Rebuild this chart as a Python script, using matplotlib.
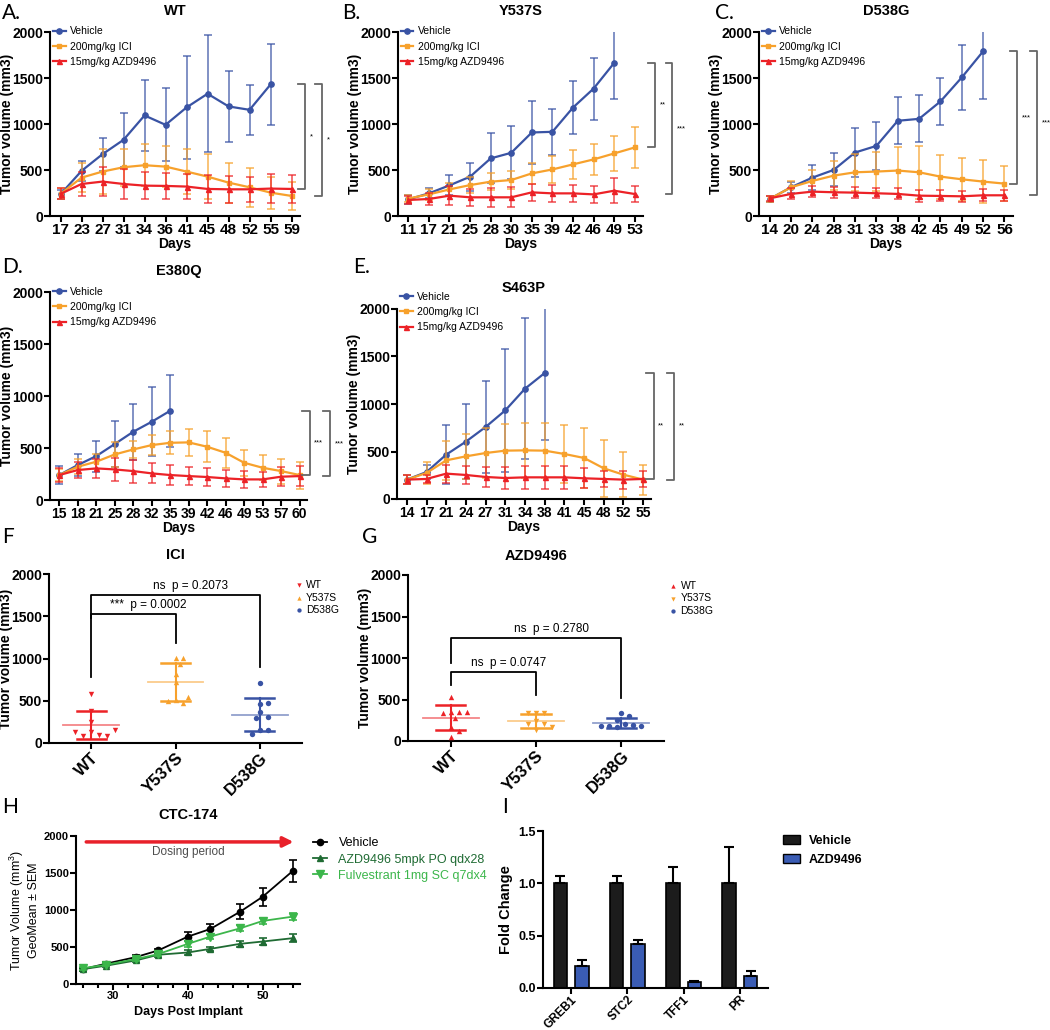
import numpy as np
import matplotlib
matplotlib.use('Agg')
import matplotlib.pyplot as plt
from matplotlib.transforms import blended_transform_factory
from matplotlib.ticker import MultipleLocator
from matplotlib.patches import Patch

plt.rcParams['font.family'] = ['Liberation Sans', 'DejaVu Sans']
plt.rcParams['mathtext.default'] = 'regular'

# ---- data: tumour growth, panels A-E (mean, SD) ----
days_A = [17, 23, 27, 31, 34, 36, 41, 45, 48, 52, 55, 59]
veh_A = [236, 490, 672, 828, 1093, 991, 1180, 1329, 1191, 1154, 1430]
veh_A_err = [50, 109, 181, 290, 388, 396, 562, 635, 388, 269, 436]
ici_A = [240, 417, 483, 530, 552, 537, 483, 428, 363, 312, 254, 218]
ici_A_err = [60, 160, 240, 200, 228, 225, 247, 247, 218, 214, 174, 156]
azd_A = [240, 348, 374, 348, 330, 327, 320, 294, 290, 290, 298, 294]
azd_A_err = [60, 135, 156, 164, 145, 138, 137, 153, 149, 138, 159, 153]

days_B = [11, 17, 21, 25, 28, 30, 35, 39, 42, 46, 49, 53]
veh_B = [181, 246, 333, 427, 626, 687, 908, 915, 1179, 1385, 1664]
veh_B_err = [50, 55, 108, 152, 271, 290, 344, 253, 290, 337, 387]
ici_B = [190, 235, 289, 336, 373, 391, 463, 506, 561, 615, 680, 745]
ici_B_err = [40, 60, 67, 85, 90, 95, 115, 150, 160, 170, 190, 220]
azd_B = [174, 185, 221, 203, 203, 203, 257, 246, 246, 235, 275, 239]
azd_B_err = [40, 60, 100, 90, 105, 110, 95, 95, 90, 90, 135, 90]

days_C = [14, 20, 24, 28, 31, 33, 38, 42, 45, 49, 52, 56]
veh_C = [185, 312, 417, 501, 690, 762, 1035, 1056, 1245, 1506, 1790]
veh_C_err = [30, 60, 135, 180, 265, 265, 255, 255, 255, 350, 520]
ici_C = [185, 312, 381, 439, 475, 483, 494, 475, 428, 399, 374, 352]
ici_C_err = [30, 70, 120, 155, 200, 210, 255, 285, 240, 235, 230, 190]
azd_C = [192, 240, 265, 258, 254, 247, 240, 221, 218, 214, 225, 225]
azd_C_err = [30, 60, 60, 60, 60, 55, 60, 65, 60, 60, 65, 60]

days_D = [15, 18, 21, 25, 28, 32, 35, 39, 42, 46, 49, 53, 57, 60]
veh_D = [240, 336, 422, 538, 656, 752, 858]
veh_D_err = [90, 110, 150, 220, 270, 330, 345]
ici_D = [240, 320, 368, 438, 486, 528, 550, 554, 512, 454, 358, 310, 278, 240]
ici_D_err = [60, 70, 70, 120, 80, 100, 110, 130, 150, 145, 125, 120, 120, 130]
azd_D = [240, 288, 304, 294, 278, 256, 240, 230, 221, 208, 198, 198, 224, 230]
azd_D_err = [70, 80, 95, 110, 110, 95, 95, 90, 85, 80, 80, 75, 90, 95]

days_E = [14, 17, 21, 24, 27, 31, 34, 38, 41, 45, 48, 52, 55]
veh_E = [204, 284, 467, 604, 758, 933, 1161, 1326]
veh_E_err = [50, 77, 312, 393, 488, 646, 744, 700]
ici_E = [204, 274, 407, 449, 484, 509, 512, 509, 474, 432, 323, 256, 204]
ici_E_err = [49, 112, 207, 239, 263, 284, 288, 291, 308, 315, 302, 239, 157]
azd_E = [204, 211, 267, 253, 232, 221, 228, 228, 228, 218, 211, 204, 211]
azd_E_err = [45, 40, 95, 95, 110, 120, 120, 120, 120, 105, 85, 95, 85]

# ---- data: endpoint volumes, panels F-G ----
ici_wt = [576, 382, 252, 134, 95, 87, 87, 134, 154]
ici_y537s = [1002, 1002, 931, 813, 726, 509, 470, 501, 548]
ici_d538g = [710, 462, 477, 363, 311, 292, 158, 154, 106]
azd_wt = [527, 355, 350, 340, 355, 275, 165, 115, 50]
azd_y537s = [341, 341, 341, 241, 205, 205, 172, 128]
azd_d538g = [333, 301, 253, 201, 193, 184, 165, 184, 184]
mutants = ['WT', 'Y537S', 'D538G']

# ---- data: CTC-174, panel H ----
days_H = [26, 29, 33, 36, 40, 43, 47, 50, 54]
h_veh = [202, 274, 363, 453, 641, 744, 978, 1179, 1525]
h_veh_err = [20, 20, 25, 25, 55, 70, 105, 125, 145]
h_azd = [202, 247, 318, 395, 426, 475, 543, 574, 619]
h_azd_err = [20, 20, 20, 25, 30, 25, 40, 50, 55]
h_fulv = [215, 260, 336, 404, 543, 641, 753, 852, 910]
h_fulv_err = [20, 20, 20, 25, 40, 35, 40, 40, 45]

# ---- data: gene expression, panel I ----
genes = ['GREB1', 'STC2', 'TFF1', 'PR']
i_veh = [1.0, 1.0, 1.0, 1.0]
i_veh_err = [0.07, 0.07, 0.16, 0.35]
i_azd = [0.21, 0.42, 0.055, 0.11]
i_azd_err = [0.055, 0.04, 0.008, 0.048]

W, H = 1050, 1030
fig = plt.figure(figsize=(W / 100, H / 100), dpi=100)

BLUE, ORANGE, RED = '#3953a4', '#f7a12c', '#ec2227'


def add_ax(l, t, r, b):
    return fig.add_axes([l / W, 1 - b / H, (r - l) / W, (b - t) / H])


def prism(ax, lw=1.5):
    for s in ['top', 'right']:
        ax.spines[s].set_visible(False)
    for s in ['left', 'bottom']:
        ax.spines[s].set_linewidth(lw)
    ax.tick_params(width=lw, length=4, pad=1)


def bold_ticks(ax, xsize, ysize):
    ax.tick_params(axis='x', labelsize=xsize)
    ax.tick_params(axis='y', labelsize=ysize)
    for t in ax.get_xticklabels() + ax.get_yticklabels():
        t.set_fontweight('bold')


def vol_label(ax):
    # y label placed a fixed pixel distance left of the axis
    ax.set_ylabel('Tumor volume (mm3)', fontweight='bold', fontsize=10)
    wpx = ax.get_position().width * W
    ax.yaxis.set_label_coords(-36 / wpx, 0.5)


def letter(x, y, s):
    fig.text(x / W, 1 - y / H, s, fontsize=15, family=['Lato', 'DejaVu Sans'],
             va='center', ha='left')


def growth(ax, days, series, title, stars, bx, tick_fs, leg_y):
    x = np.arange(len(days))
    labels = ['Vehicle', '200mg/kg ICI', '15mg/kg AZD9496']
    for (y, e), c, m, ms, lab in zip(series, [BLUE, ORANGE, RED], ['o', 's', '^'],
                                     [3.8, 2.8, 3.6], labels):
        xi = x[:len(y)]
        ax.errorbar(xi, y, yerr=e, fmt='none', ecolor=c, elinewidth=1.2,
                    capsize=3, capthick=1.2, alpha=0.75)
        ax.plot(xi, y, color=c, marker=m, ms=ms, lw=1.6, label=lab)
    ax.set_xlim(-0.5, len(days) - 0.6)
    ax.set_ylim(0, 2000)
    ax.set_xticks(x)
    ax.set_xticklabels([str(d) for d in days])
    ax.set_yticks([0, 500, 1000, 1500, 2000])
    prism(ax)
    bold_ticks(ax, tick_fs, 10)
    ax.set_xlabel('Days', fontweight='bold', fontsize=10, labelpad=0)
    vol_label(ax)
    ax.set_title(title, fontweight='bold', fontsize=10.5, pad=12)
    ax.legend(loc='upper left', bbox_to_anchor=(0.012, leg_y), frameon=False, fontsize=7.5,
              handlelength=1.2, handletextpad=0.4, labelspacing=0.5,
              borderaxespad=0, borderpad=0)
    # significance brackets: vehicle end vs treatment ends
    tr = blended_transform_factory(ax.transAxes, ax.transData)
    top = series[0][0][-1]
    ends = [series[1][0][-1], series[2][0][-1]]
    for xb, yb, st in zip(bx, [max(ends), min(ends)], stars):
        ax.plot([xb - 0.028, xb, xb, xb - 0.028], [top, top, yb, yb], color='0.4',
                lw=1.3, transform=tr, clip_on=False)
        ax.text(xb + 0.018, (top + yb) / 2, st, transform=tr, fontsize=5.5,
                ha='left', va='center')


def swarm(vals, sx, sy, d=7.0, step=4.0):
    cands = [0.0]
    for n in range(1, 14):
        cands += [n * step, -n * step]
    placed, offs = [], []
    for v in vals:
        py = v * sy
        for px in cands:
            if all((px - qx) ** 2 + (py - qy) ** 2 >= d * d for qx, qy in placed):
                break
        placed.append((px, py))
        offs.append(px / sx)
    return np.array(offs)


def endpoint(ax, groups, markers, title, comps, ax_w, ax_h, leg_anchor):
    colors = [RED, ORANGE, BLUE]
    for i, (vals, m, c, lab) in enumerate(zip(groups, markers, colors, mutants)):
        vals = np.array(vals, float)
        dx = swarm(vals, ax_w / 3.0, ax_h / 2000.0)
        ax.scatter(i + dx, vals, marker=m, s=15, color=c, zorder=3, linewidths=0, label=lab)
        mean, sd = vals.mean(), vals.std(ddof=1)
        ax.plot([i - 0.33, i + 0.33], [mean, mean], color=c, lw=1.3, alpha=0.55)
        ax.plot([i - 0.17, i + 0.17], [mean + sd] * 2, color=c, lw=1.8)
        ax.plot([i - 0.17, i + 0.17], [mean - sd] * 2, color=c, lw=1.8)
        ax.plot([i, i], [mean - sd, mean + sd], color=c, lw=1.5)
    for i, j, top, lb, rb, txt in comps:
        ax.plot([i, i, j, j], [lb, top, top, rb], color='k', lw=1.3)
        ax.text((i + j) / 2 + 0.18, top + 35, txt, ha='center', va='bottom', fontsize=8.5)
    ax.set_xlim(-0.5, 2.5)
    ax.set_ylim(0, 2000)
    ax.set_xticks(range(3))
    ax.set_yticks([0, 500, 1000, 1500, 2000])
    prism(ax)
    ax.set_xticklabels(mutants, rotation=45, ha='right', rotation_mode='anchor')
    bold_ticks(ax, 12, 10)
    vol_label(ax)
    ax.set_title(title, fontweight='bold', fontsize=10.5, pad=11)
    ax.legend(loc='upper left', bbox_to_anchor=leg_anchor, frameon=False, fontsize=7.5,
              handlelength=0.8, handletextpad=0.3, labelspacing=0.25,
              borderaxespad=0, borderpad=0, scatterpoints=1, markerscale=0.8)


# ---- A-E ----
axA = add_ax(50, 32, 300, 216)
growth(axA, days_A, [(veh_A, veh_A_err), (ici_A, ici_A_err), (azd_A, azd_A_err)],
       'WT', ['*', '*'], [1.02, 1.088], 11, 1.03)
axB = add_ax(398, 32, 643, 216)
growth(axB, days_B, [(veh_B, veh_B_err), (ici_B, ici_B_err), (azd_B, azd_B_err)],
       'Y537S', ['**', '***'], [1.05, 1.12], 11, 1.03)
axC = add_ax(759, 32, 1013, 216)
growth(axC, days_C, [(veh_C, veh_C_err), (ici_C, ici_C_err), (azd_C, azd_C_err)],
       'D538G', ['***', '***'], [1.016, 1.094], 11, 1.03)
axD = add_ax(50, 292, 307, 500)
growth(axD, days_D, [(veh_D, veh_D_err), (ici_D, ici_D_err), (azd_D, azd_D_err)],
       'E380Q', ['***', '***'], [1.01, 1.09], 10, 1.025)
axE = add_ax(397, 309, 651, 499)
growth(axE, days_E, [(veh_E, veh_E_err), (ici_E, ici_E_err), (azd_E, azd_E_err)],
       'S463P', ['**', '**'], [1.01, 1.09], 10, 1.09)

# ---- F, G ----
axF = add_ax(49, 574, 302, 743)
endpoint(axF, [ici_wt, ici_y537s, ici_d538g], ['v', '^', 'o'], 'ICI',
         [(0, 1, 1527, 780, 1183, '***  p = 0.0002'), (0, 2, 1750, 1480, 900, 'ns  p = 0.2073')],
         253, 169, (0.97, 0.965))
axG = add_ax(408, 575, 664, 741)
endpoint(axG, [azd_wt, azd_y537s, azd_d538g], ['^', 'v', 'o'], 'AZD9496',
         [(0, 1, 828, 675, 554, 'ns  p = 0.0747'), (0, 2, 1237, 943, 514, 'ns  p = 0.2780')],
         256, 166, (1.02, 0.965))

# ---- H ----
axH = add_ax(76, 836, 300, 984)
for y, e, c, m, ms, lab in [(h_veh, h_veh_err, 'black', 'o', 4.5, 'Vehicle'),
                            (h_azd, h_azd_err, '#1f6b33', '^', 4.5, 'AZD9496 5mpk PO qdx28'),
                            (h_fulv, h_fulv_err, '#3cb64b', 'v', 6, 'Fulvestrant 1mg SC q7dx4')]:
    axH.errorbar(days_H, y, yerr=e, fmt='none', ecolor=c, capsize=3,
                 elinewidth=1.2, capthick=1.2)
    axH.plot(days_H, y, color=c, marker=m, ms=ms, lw=1.3, label=lab)
axH.annotate('', xy=(days_H[-1] + 0.5, 1920), xytext=(days_H[0], 1920),
             arrowprops=dict(arrowstyle='-|>', color='#e8202a', lw=2.5, mutation_scale=15))
axH.text((days_H[0] + days_H[-1]) / 2, 1790, 'Dosing period', ha='center', va='center',
         fontsize=8.5, color='0.3')
axH.set_xlim(25, 55)
axH.set_ylim(0, 2000)
axH.set_xticks([30, 40, 50])
axH.xaxis.set_minor_locator(MultipleLocator(2))
axH.set_yticks([0, 500, 1000, 1500, 2000])
prism(axH)
axH.tick_params(which='minor', width=1.5, length=3)
bold_ticks(axH, 8, 8)
axH.set_xlabel('Days Post Implant', fontweight='bold', fontsize=9, labelpad=4)
axH.set_ylabel('Tumor Volume (mm$^3$)\nGeoMean ± SEM', fontsize=9, labelpad=3)
axH.set_title('CTC-174', fontweight='bold', fontsize=10.5, pad=12)
axH.legend(loc='upper left', bbox_to_anchor=(1.06, 0.99), frameon=False, fontsize=9,
           handlelength=1.1, handletextpad=0.9, labelspacing=0.33, borderaxespad=0,
           borderpad=0, labelcolor='linecolor')

# ---- I ----
axI = add_ax(543, 831, 768, 988)
xi = np.arange(len(genes))
axI.bar(xi - 0.19, i_veh, 0.24, color='#1c1c1c', edgecolor='black', lw=1.2, label='Vehicle')
axI.bar(xi + 0.19, i_azd, 0.24, color='#3a5cb4', edgecolor='black', lw=1.2, label='AZD9496')
axI.errorbar(xi - 0.19, i_veh, yerr=[np.zeros(len(genes)), i_veh_err], fmt='none',
             ecolor='black', elinewidth=1.5, capsize=3.5, capthick=1.5)
axI.errorbar(xi + 0.19, i_azd, yerr=[np.zeros(len(genes)), i_azd_err], fmt='none',
             ecolor='black', elinewidth=1.5, capsize=3.5, capthick=1.5)
axI.set_xlim(-0.5, len(genes) - 0.5)
axI.set_ylim(0, 1.5)
axI.set_yticks([0, 0.5, 1.0, 1.5])
axI.set_xticks(xi)
axI.set_xticklabels(genes, rotation=45, ha='right', rotation_mode='anchor')
prism(axI)
bold_ticks(axI, 8.5, 9)
axI.tick_params(axis='x', pad=0)
axI.set_ylabel('Fold Change', fontweight='bold', fontsize=10.5, labelpad=4)
axI.legend(handles=[Patch(facecolor='#1c1c1c', edgecolor='black', label='Vehicle'),
                    Patch(facecolor='#3a5cb4', edgecolor='black', label='AZD9496')],
           loc='upper left', bbox_to_anchor=(1.065, 0.975), frameon=False,
           prop={'weight': 'bold', 'size': 9}, handlelength=1.4, handleheight=0.8,
           handletextpad=0.7, labelspacing=0.55, borderaxespad=0, borderpad=0)

# ---- panel letters ----
for x, y, s in [(2, 13, 'A.'), (342, 13, 'B.'), (715, 13, 'C.'), (2, 267, 'D.'),
                (353, 267, 'E.'), (2, 537, 'F'), (362, 537, 'G'), (2, 807, 'H'), (502, 807, 'I')]:
    letter(x, y, s)

fig.savefig('out.png', dpi=100)
